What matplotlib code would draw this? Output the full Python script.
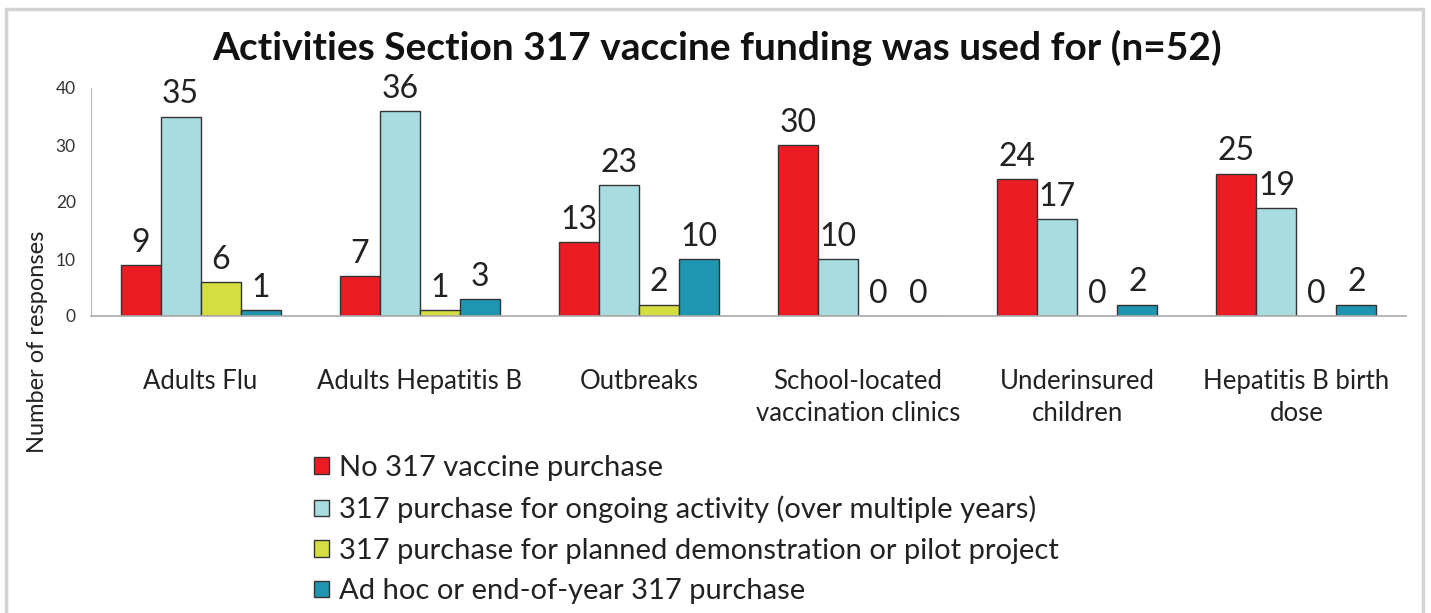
import matplotlib
matplotlib.use("Agg")
import matplotlib.pyplot as plt
from matplotlib.patches import Rectangle, Patch
import numpy as np

categories = ["Adults Flu", "Adults Hepatitis B", "Outbreaks",
              "School-located\nvaccination clinics", "Underinsured\nchildren",
              "Hepatitis B birth\ndose"]
series_names = ["No 317 vaccine purchase",
                "317 purchase for ongoing activity (over multiple years)",
                "317 purchase for planned demonstration or pilot project",
                "Ad hoc or end-of-year 317 purchase"]
no_purchase = [9, 7, 13, 30, 24, 25]
ongoing = [35, 36, 23, 10, 17, 19]
planned = [6, 1, 2, 0, 0, 0]
ad_hoc = [1, 3, 10, 0, 2, 2]
series_values = [no_purchase, ongoing, planned, ad_hoc]
colors = ["#ED1C24", "#A8DCE1", "#D4DE41", "#1E96B1"]
yticks = [0, 10, 20, 30, 40]

plt.rcParams['font.family'] = ['Lato', 'DejaVu Sans']
W, H = 1431, 613
fig = plt.figure(figsize=(W / 100, H / 100), dpi=100)

# border
fig.patches.append(Rectangle((6 / W, -0.05), 1417 / W, 1.05 - 9 / H, transform=fig.transFigure,
                             fill=False, edgecolor="#D3D3D3", linewidth=2.5))

ax = fig.add_axes([91 / W, 1 - 316 / H, (1406 - 91) / W, (316 - 88) / H])
x = np.arange(len(categories))
bw = 40 / 219
for i, (vals, c) in enumerate(zip(series_values, colors)):
    pos = x + (i - 1.5) * bw
    ax.bar(pos, vals, width=bw, color=c, edgecolor="#333333", linewidth=1.0,
           label=series_names[i])
    for p, v in zip(pos, vals):
        ax.annotate(str(v), (p, v), xytext=(0, 9.5), textcoords="offset points",
                    ha="center", va="baseline", fontsize=23, color="#222222")

ax.set_xlim(-0.5, len(categories) - 0.5)
ax.set_ylim(0, 40)
ax.set_yticks(yticks)
ax.set_yticklabels([str(t) for t in yticks], fontsize=12.5, color="#333333")
ax.set_xticks(x)
ax.set_xticklabels(categories, fontsize=18.5, color="#222222", linespacing=1.37, va="top")
ax.tick_params(axis="both", length=0)
ax.tick_params(axis="y", pad=11)
ax.tick_params(axis="x", pad=38)
for s in ["top", "right"]:
    ax.spines[s].set_visible(False)
ax.spines["left"].set_color("#BBBBBB")
ax.spines["bottom"].set_color("#AAAAAA")
ax.spines["bottom"].set_linewidth(1.2)

fig.text(717 / W, 1 - 48 / H, "Activities Section 317 vaccine funding was used for (n=52)",
         ha="center", va="center", fontsize=28, fontweight="bold", color="#111111")
fig.text(38 / W, 1 - 342 / H, "Number of responses", rotation=90, ha="center", va="center",
         fontsize=17, color="#222222")

handles = [Patch(facecolor=c, edgecolor="#333333", linewidth=1.0) for c in colors]
fig.legend(handles, series_names, loc="upper left", bbox_to_anchor=(314 / W, 1 - 455 / H),
           frameon=False, fontsize=21, handlelength=0.5, handleheight=0.5,
           handletextpad=0.35, labelspacing=0.5, borderaxespad=0, borderpad=0,
           labelcolor="#222222")

fig.savefig("out.png", dpi=100)
